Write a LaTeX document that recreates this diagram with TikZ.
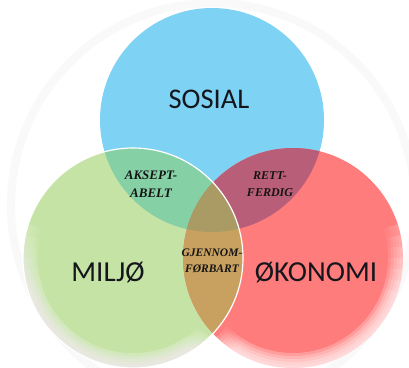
\documentclass[tikz,border=0pt]{standalone}
\usepackage{fontspec}
\setmainfont{Carlito}
\newfontfamily\serf{Liberation Serif}
\definecolor{cblue}{RGB}{126,211,245}
\definecolor{cgreen}{RGB}{197,227,165}
\definecolor{cred}{RGB}{255,124,124}
\definecolor{cbg}{RGB}{134,208,165}
\definecolor{cbr}{RGB}{185,94,120}
\definecolor{cgr}{RGB}{200,160,95}
\definecolor{cbgr}{RGB}{170,155,100}
\definecolor{ctxt}{RGB}{20,22,28}
\tikzset{
  bigl/.style={font=\fontsize{29}{34}\selectfont, text=ctxt, inner sep=0pt},
  smalll/.style={font=\serf\bfseries\itshape\fontsize{12}{17}\selectfont, text=black!92, align=center, inner sep=0pt},
  fadestroke/.style={draw=white, line cap=butt, opacity=0.045},
}
\def\Cb{(212,120) circle[radius=112]}
\def\Cg{(133,258) circle[radius=110]}
\def\Cr{(293,258) circle[radius=110]}
\begin{document}
\begin{tikzpicture}[x=1pt,y=-1pt]
\useasboundingbox (0,0) rectangle (409,367);
\fill[white] (0,0) rectangle (409,367);
\draw[black!2.5, line width=8pt] (213,205) circle[radius=202];
\coordinate (gc) at (133,258);
\coordinate (rc) at (293,258);
\fill[cblue] \Cb;
\fill[cgreen] \Cg;
\fill[cred] \Cr;
\begin{scope}\clip \Cb; \fill[cbg] \Cg; \end{scope}
\begin{scope}\clip \Cb; \fill[cbr] \Cr; \end{scope}
\begin{scope}\clip \Cg; \fill[cgr] \Cr; \end{scope}
\begin{scope}\clip \Cb; \clip \Cg; \fill[cbgr] \Cr; \end{scope}
% soft lower edges
\foreach \k in {0,...,6} {
  \pgfmathsetmacro\s{46+2*\k}
  \pgfmathsetmacro\e{198-6*\k}
  \pgfmathsetmacro\rs{180-\s}
  \pgfmathsetmacro\re{180-\e}
  \foreach \w in {6,12,...,30} {
    \draw[fadestroke, line width=\w pt] (gc) ++(\s:110) arc[start angle=\s, end angle=\e, radius=110];
    \draw[fadestroke, line width=\w pt] (rc) ++(\rs:110) arc[start angle=\rs, end angle=\re, radius=110];
  }
}
\draw[white, line width=1.2pt] \Cg;
\node[bigl, font=\fontsize{28.5}{34}\selectfont] (sosial) at (209,99) {SOSIAL};
\node[bigl] (miljo) at (108,272) {MILJØ};
\node[bigl] (okonomi) at (316,272) {ØKONOMI};
\node[smalll, font=\serf\bfseries\itshape\fontsize{13}{18}\selectfont] (aks) at (151,184) {AKSEPT-\\ABELT};
\node[smalll] (rett) at (270,184) {RETT-\\FERDIG};
\node[smalll, font=\serf\bfseries\itshape\fontsize{11.5}{16}\selectfont] (gjen) at (212,261) {GJENNOM-\\FØRBART};
\end{tikzpicture}
\end{document}
